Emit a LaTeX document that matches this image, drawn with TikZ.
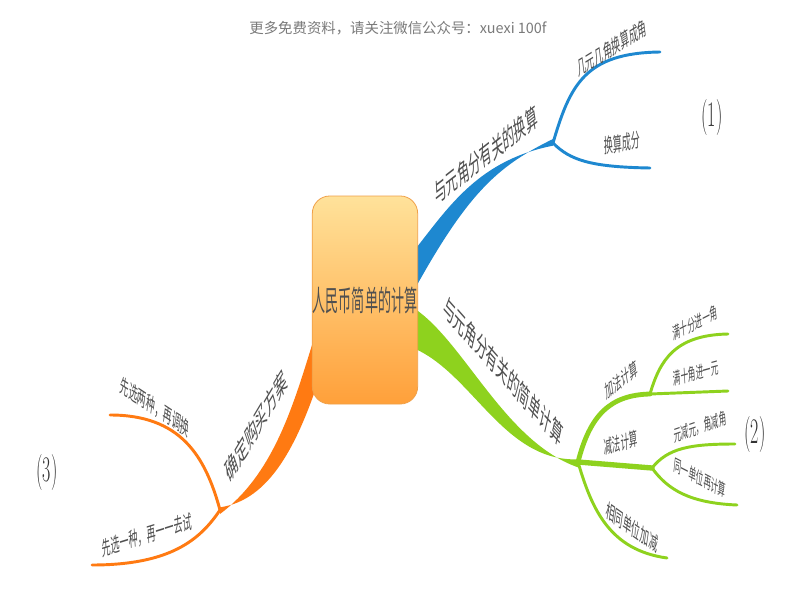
\documentclass[tikz,border=0pt]{standalone}
\usepackage{fontspec}
\newfontfamily\cjk{Noto Sans CJK SC}
\definecolor{txtgray}{HTML}{505050}
\definecolor{hdrgray}{HTML}{7A7A7A}
\definecolor{bblue}{HTML}{1E88D0}
\definecolor{bgreen}{HTML}{8ED21E}
\definecolor{borange}{HTML}{FF7A12}
\definecolor{boxtop}{HTML}{FFE29A}
\definecolor{boxmid}{HTML}{FFC468}
\definecolor{boxbot}{HTML}{FFA03A}
\definecolor{boxedge}{HTML}{F0A048}
\newcommand\lab[3]{\scalebox{0.45}[1]{\rotatebox{#1}{\fontsize{#2}{#2}\selectfont\cjk #3}}}
\newcommand\numlab[1]{\scalebox{0.5}[1]{\fontsize{27}{27}\selectfont #1}}
\tikzset{
  lbl/.style={inner sep=0pt, text=txtgray},
  numl/.style={inner sep=0pt, text=black!80},
  bsub/.style={draw=bblue, line width=2.2pt, line cap=round},
  gsub/.style={draw=bgreen, line width=2.2pt, line cap=round},
  osub/.style={draw=borange, line width=2.2pt, line cap=round},
  rootbox/.style={rounded corners=13pt, minimum width=79pt, minimum height=156pt,
    shading=axis, top color=boxtop, middle color=boxmid, bottom color=boxbot,
    draw=boxedge, line width=0.6pt, inner sep=0pt}
}
\begin{document}
\begin{tikzpicture}[x=0.75pt,y=-0.75pt]
\fill[white] (0,0) rectangle (800,600);
\useasboundingbox (0,0) rectangle (800,600);

% header
\node[inner sep=0pt, text=hdrgray, font=\cjk\fontsize{10.8}{10.8}\selectfont] (hdr) at (398,28) {更多免费资料，请关注微信公众号：xuexi 100f};

% fork coordinates
\coordinate (fB) at (553,143);
\coordinate (eB1) at (660,52);
\coordinate (eB2) at (650,168);
\coordinate (fG) at (578,462);
\coordinate (fG1) at (650,394);
\coordinate (fG2) at (652,468);
\coordinate (eG1) at (728,391);
\coordinate (eG2) at (728,334);
\coordinate (eG3) at (735,444);
\coordinate (eG4) at (737,505);
\coordinate (eG5) at (667,558);
\coordinate (fO) at (220,510);
\coordinate (eO1) at (110,415);
\coordinate (eO2) at (92,565);

% blue trunk
\fill[bblue] (405,262) -- (417,247) .. controls (450,205) and (480,160) .. ([yshift=-2]fB)
  -- ([yshift=3]fB) .. controls (500,165) and (470,190) .. (417,285) -- (405,300) -- cycle;
\draw[bsub] (fB) .. controls (570,85) and (585,53) .. (eB1);
\draw[bsub] (fB) .. controls (570,160) and (590,167) .. (eB2);

% green trunk
\fill[bgreen] (405,303) .. controls (460,330) and (500,440) .. ([yshift=-4]fG)
  -- ([yshift=2]fG) .. controls (500,462) and (470,365) .. (405,345) -- cycle;
\draw[gsub, line width=3.6pt] (fG) .. controls (590,415) and (610,395) .. (fG1);
\draw[gsub] (fG1) -- (eG1);
\draw[gsub] (fG1) .. controls (660,360) and (675,335) .. (eG2);
\draw[gsub, line width=4pt] (fG) -- (fG2);
\draw[gsub] (fG2) .. controls (668,448) and (690,444) .. (eG3);
\draw[gsub] (fG2) .. controls (668,490) and (690,503) .. (eG4);
\draw[gsub] (fG) .. controls (592,510) and (610,550) .. (eG5);

% orange trunk
\fill[borange] (312,345) .. controls (292,410) and (272,475) .. ([yshift=-3]fO)
  -- ([yshift=2]fO) .. controls (270,500) and (298,445) .. (322,370) -- cycle;
\draw[osub] (fO) .. controls (205,455) and (180,415) .. (eO1);
\draw[osub] (fO) .. controls (200,540) and (170,565) .. (eO2);

% root
\node[rootbox] (root) at (365,300) {};
\node[lbl] (roott) at (root.center) {\lab{0}{21.75}{人民币简单的计算}};

% labels
\node[lbl] (lb) at (486,155) {\lab{19.4}{20}{与元角分有关的换算}};
\node[lbl] (lb1) at (612,48) {\lab{15.6}{15}{几元几角换算成角}};
\node[lbl] (lb2) at (622,143) {\lab{4.5}{15}{换算成分}};

\node[lbl] (lg) at (503,371) {\lab{-27}{20}{与元角分有关的简单计算}};
\node[lbl] (lg1) at (621,380) {\lab{20}{14.25}{加法计算}};
\node[lbl] (lg11) at (695,323) {\lab{13}{12.75}{满十分进一角}};
\node[lbl] (lg12) at (696,373) {\lab{7}{12.75}{满十角进一元}};
\node[lbl] (lg2) at (621,443) {\lab{7}{14.25}{减法计算}};
\node[lbl] (lg21) at (700,427) {\lab{9}{12.75}{元减元，角减角}};
\node[lbl] (lg22) at (700,478) {\lab{-13}{12.75}{同一单位再计算}};
\node[lbl] (lg3) at (632,527) {\lab{-17.5}{15}{相同单位加减}};

\node[lbl] (lo) at (256,426) {\lab{37}{20.5}{确定购买方案}};
\node[lbl] (lo1) at (155,407) {\lab{-16.5}{15}{先选两种，再调换}};
\node[lbl] (lo2) at (147,535) {\lab{8}{15}{先选一种，再一一去试}};

\node[numl] (n1) at (712,118) {\numlab{(1)}};
\node[numl] (n2) at (755,435) {\numlab{(2)}};
\node[numl] (n3) at (47,473) {\numlab{(3)}};
\end{tikzpicture}
\end{document}
